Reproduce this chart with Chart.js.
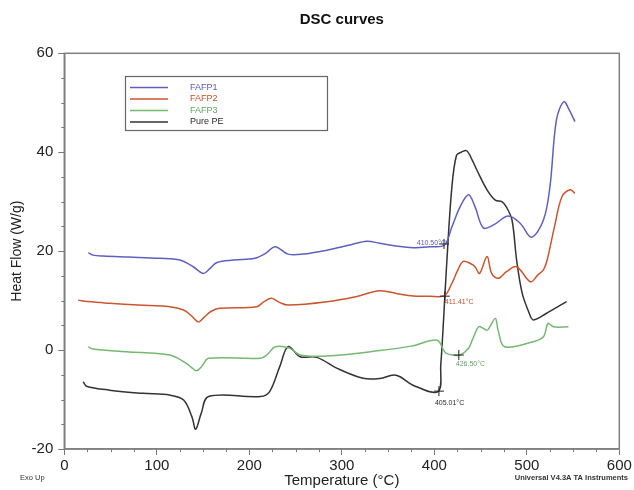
<!DOCTYPE html>
<html>
<head>
<meta charset="utf-8">
<script src="https://cdn.jsdelivr.net/npm/chart.js@4.4.0/dist/chart.umd.min.js"></script>
<style>
  html, body { margin: 0; padding: 0; background: #fff; }
  canvas { display: block; }
</style>
</head>
<body>
<canvas id="dsc-chart" width="634" height="490"></canvas>
<script>
// series: temperature (°C) and heat flow (W/g)
const seriesNames = ['FAFP1', 'FAFP2', 'FAFP3', 'Pure PE'];

const tempFAFP1 = [26, 31, 42, 70, 103, 125, 139, 150, 157, 165, 183, 206, 218, 228, 242, 258, 284, 310, 327, 341, 360, 377, 395, 411,
  419, 428, 437, 444, 453, 464, 480, 493, 505, 518, 525, 532, 540, 546, 552];
const flowFAFP1 = [19.7, 19.2, 19.0, 18.8, 18.55, 18.2, 16.9, 15.5, 16.4, 17.7, 18.2, 18.55, 19.6, 20.9, 19.4, 19.4, 20.2, 21.3, 22.0, 21.6, 21.0, 20.7, 20.9, 21.25,
  24.9, 29.0, 31.4, 29.0, 24.7, 25.3, 27.1, 25.6, 22.8, 26.3, 33.0, 46.5, 50.2, 48.5, 46.2];

const tempFAFP2 = [15, 25, 49, 80, 114, 129, 137, 145, 151, 158, 168, 208, 216, 224, 233, 242, 284, 315, 341, 360, 377, 395, 411,
  419, 425, 431, 439, 444, 449, 457, 462, 469, 478, 489, 504, 512, 518, 522, 530, 538, 547, 552];
const flowFAFP2 = [10.1, 9.8, 9.45, 9.1, 8.77, 8.1, 7.0, 5.7, 6.6, 7.75, 8.44, 8.77, 9.8, 10.47, 9.6, 9.1, 9.78, 10.8, 12.0, 11.4, 10.93, 10.9, 11.0,
  13.5, 16.0, 17.9, 17.5, 16.85, 15.5, 18.9, 15.5, 14.5, 15.85, 16.85, 13.8, 15.2, 16.2, 18.2, 25.0, 31.0, 32.4, 31.7];

const tempFAFP3 = [26, 31, 67, 114, 132, 138, 143, 149, 156, 212, 220, 228, 244, 255, 284, 341, 375, 403, 410, 413, 420, 428,
  437, 441, 448, 453, 457, 460, 466, 469, 476, 507, 518, 523, 529, 545];
const flowFAFP3 = [0.7, 0.2, -0.33, -1.0, -2.7, -3.6, -4.2, -3.2, -1.67, -1.67, -0.8, 0.68, 0.34, -1.0, -1.2, -0.1, 0.8, 2.0, 0.0, -0.66, -1.0, -1.0,
  0.35, 2.0, 4.7, 4.4, 4.0, 4.7, 6.4, 4.0, 0.67, 1.7, 2.7, 5.4, 4.7, 4.7];

const tempPurePE = [20.5, 24, 49, 85, 114, 129, 138, 142, 148, 156, 212, 222, 233, 242, 255, 273, 295, 323, 341, 356, 363, 377, 404,
  407, 410, 413, 419, 424, 429, 435, 441, 446, 457, 466, 473, 478, 484, 489, 495, 502, 507, 521, 543];
const flowPurePE = [-6.4, -7.3, -8.1, -8.75, -9.1, -10.1, -13.5, -16.0, -12.8, -9.4, -9.4, -8.4, -3.3, 0.7, -1.35, -1.47, -3.7, -5.7, -5.75, -5.05, -5.4, -7.1, -8.4,
  -3.0, 6.1, 16.2, 33.0, 39.4, 40.0, 40.3, 38.4, 36.4, 32.4, 30.3, 30.0, 28.9, 26.3, 18.2, 11.5, 7.75, 6.1, 7.4, 9.8];

// onset marks: temperature, heat flow, label
const onsetTemps = [410.50, 411.41, 426.50, 405.01];
const onsetFlows = [21.45, 10.9, -1.0, -8.3];
const onsetLabels = ['410.50°C', '411.41°C', '426.50°C', '405.01°C'];

const xTicks = [0, 100, 200, 300, 400, 500, 600];
const yTicks = [-20, 0, 20, 40, 60];

const lineColors = ['#5f5fbf', '#c9562f', '#74b874', '#333333'];
const textColors = ['#5a5ab0', '#c0502a', '#62a862', '#2a2a2a'];

const FONT = '"Liberation Sans", Arial, sans-serif';

function toPoints(xs, ys) {
  return xs.map((x, i) => ({ x: x, y: ys[i] }));
}

const allTemps = [tempFAFP1, tempFAFP2, tempFAFP3, tempPurePE];
const allFlows = [flowFAFP1, flowFAFP2, flowFAFP3, flowPurePE];

const datasets = seriesNames.map((name, i) => ({
  label: name,
  data: toPoints(allTemps[i], allFlows[i]),
  borderColor: lineColors[i],
  borderWidth: 1.5,
  pointRadius: 0,
  tension: 0.35,
  fill: false
}));

const decor = {
  id: 'decor',
  afterDraw(chart) {
    const ctx = chart.ctx;
    const area = chart.chartArea;
    const xs = chart.scales.x;
    const ys = chart.scales.y;
    ctx.save();

    // title, centred over the plot box
    ctx.fillStyle = '#111';
    ctx.font = 'bold 15px ' + FONT;
    ctx.textAlign = 'center';
    ctx.textBaseline = 'middle';
    ctx.fillText('DSC curves', (area.left + area.right) / 2, 20);

    // frame
    ctx.strokeStyle = '#808080';
    ctx.lineWidth = 1.5;
    ctx.strokeRect(area.left, area.top, area.right - area.left, area.bottom - area.top);

    // minor ticks
    ctx.strokeStyle = '#777';
    ctx.lineWidth = 1;
    ctx.beginPath();
    for (let t = 0; t <= 600; t += 25) {
      if (t % 100 === 0) continue;
      const px = Math.round(xs.getPixelForValue(t)) + 0.5;
      ctx.moveTo(px, area.bottom);
      ctx.lineTo(px, area.bottom + 3);
    }
    for (let v = -20; v <= 60; v += 5) {
      if (v % 20 === 0) continue;
      const py = Math.round(ys.getPixelForValue(v)) + 0.5;
      ctx.moveTo(area.left - 3, py);
      ctx.lineTo(area.left, py);
    }
    ctx.stroke();

    // onset crosshairs and labels
    ctx.font = '7px ' + FONT;
    const offs = [[2, -1, 'right'], [0, 6, 'left'], [-3, 9, 'left'], [-4, 12, 'left']];
    onsetTemps.forEach((t, i) => {
      const px = xs.getPixelForValue(t);
      const py = ys.getPixelForValue(onsetFlows[i]);
      ctx.strokeStyle = '#222';
      ctx.lineWidth = 1;
      ctx.beginPath();
      ctx.moveTo(px - 5, py); ctx.lineTo(px + 5, py);
      ctx.moveTo(px, py - 5); ctx.lineTo(px, py + 5);
      ctx.stroke();
      ctx.fillStyle = textColors[i];
      ctx.textAlign = offs[i][2];
      ctx.fillText(onsetLabels[i], px + offs[i][0], py + offs[i][1]);
    });

    // legend box
    ctx.strokeStyle = '#666';
    ctx.lineWidth = 1.2;
    ctx.strokeRect(125.5, 76.5, 202, 54);
    ctx.font = '9px ' + FONT;
    ctx.textAlign = 'left';
    chart.data.datasets.forEach((ds, i) => {
      const y = 87.5 + i * 11.5;
      ctx.strokeStyle = ds.borderColor;
      ctx.lineWidth = 1.5;
      ctx.beginPath();
      ctx.moveTo(130, y); ctx.lineTo(168, y);
      ctx.stroke();
      ctx.fillStyle = textColors[i];
      ctx.fillText(ds.label, 190, y);
    });

    // footnotes
    ctx.fillStyle = '#333';
    ctx.font = '7.5px ' + FONT;
    ctx.textAlign = 'left';
    ctx.fillText('Exo Up', 20, 478);
    ctx.font = 'bold 7.5px ' + FONT;
    ctx.textAlign = 'right';
    ctx.fillText('Universal V4.3A TA Instruments', 628, 478);
    ctx.restore();
  }
};

new Chart(document.getElementById('dsc-chart'), {
  type: 'line',
  data: { datasets: datasets },
  plugins: [decor],
  options: {
    responsive: false,
    animation: false,
    layout: { padding: { left: 0, right: 14.7, top: 53.3, bottom: 0 } },
    plugins: {
      legend: { display: false },
      tooltip: { enabled: false },
      title: { display: false }
    },
    scales: {
      x: {
        type: 'linear',
        min: 0,
        max: 600,
        afterBuildTicks: s => { s.ticks = xTicks.map(v => ({ value: v })); },
        ticks: {
          color: '#222',
          padding: 2,
          maxRotation: 0,
          font: { family: FONT, size: 15 }
        },
        grid: { drawOnChartArea: false, tickLength: 6, tickColor: '#777' },
        border: { color: '#808080', width: 1.5 },
        title: {
          display: true,
          text: 'Temperature (°C)',
          color: '#222',
          font: { family: FONT, size: 15 },
          padding: { top: 0, bottom: 0 }
        },
        afterFit: s => { s.height = 41; }
      },
      y: {
        type: 'linear',
        min: -20,
        max: 60,
        afterBuildTicks: s => { s.ticks = yTicks.map(v => ({ value: v })); },
        ticks: {
          color: '#222',
          padding: 5,
          font: { family: FONT, size: 15 }
        },
        grid: { drawOnChartArea: false, tickLength: 6, tickColor: '#777' },
        border: { color: '#808080', width: 1.5 },
        title: {
          display: true,
          text: 'Heat Flow (W/g)',
          color: '#222',
          font: { family: FONT, size: 14 },
          padding: { top: 9, bottom: 0 }
        },
        afterFit: s => { s.width = 64.3; }
      }
    }
  }
});
</script>
</body>
</html>
